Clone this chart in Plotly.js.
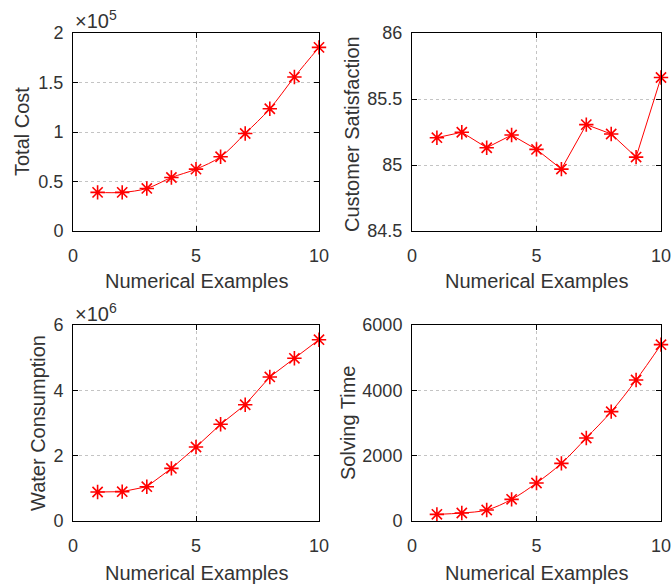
<!DOCTYPE html>
<html>
<head>
<meta charset="utf-8">
<script src="https://cdn.plot.ly/plotly-3.0.1.min.js"></script>
<style>html,body{margin:0;padding:0;background:#fff;}#chart{width:671px;height:586px;}</style>
</head>
<body>
<div id="chart"></div>
<script>
// Data
const examples = [1, 2, 3, 4, 5, 6, 7, 8, 9, 10];
const totalCost = [39000, 39000, 43000, 54000, 62500, 75000, 98500, 123500, 155500, 185500];
const customerSatisfaction = [85.207, 85.248, 85.131, 85.227, 85.118, 84.969, 85.306, 85.235, 85.06, 85.663];
const waterConsumption = [888000, 898000, 1050000, 1610000, 2265000, 2960000, 3560000, 4410000, 4980000, 5550000];
const solvingTime = [204, 245, 337, 663, 1163, 1765, 2541, 3347, 4316, 5398];

const xTicks = [0, 5, 10];
const costTickVals = [0, 50000, 100000, 150000, 200000];
const costTickText = ['0', '0.5', '1', '1.5', '2'];
const satTickVals = [84.5, 85, 85.5, 86];
const satTickText = ['84.5', '85', '85.5', '86'];
const waterTickVals = [0, 2000000, 4000000, 6000000];
const waterTickText = ['0', '2', '4', '6'];
const timeTickVals = [0, 2000, 4000, 6000];
const timeTickText = ['0', '2000', '4000', '6000'];

const W = 671, H = 586;
const px = v => v / W;
const py = v => 1 - v / H;
const textColor = '#333333';
const fontFam = 'Liberation Sans, Arial, sans-serif';

function trace(y, xa, ya, shape) {
  return {
    x: examples, y: y, xaxis: xa, yaxis: ya, type: 'scatter', mode: 'lines+markers',
    line: {color: '#ff0000', width: 1, shape: shape || 'linear'},
    marker: {symbol: 'asterisk-open', size: 12, color: '#ff0000', line: {color: '#ff0000', width: 1.6}},
    hoverinfo: 'skip', showlegend: false, cliponaxis: false
  };
}

function xaxis(domain, anchor) {
  return {
    domain: domain, anchor: anchor, range: [0, 10], tickvals: xTicks, ticktext: xTicks.map(String),
    showline: true, linecolor: '#000', linewidth: 1, mirror: 'ticks',
    ticks: 'inside', ticklen: 5, tickcolor: '#000', ticklabelstandoff: 8,
    ticklabeloverflow: 'allow',
    showgrid: true, gridcolor: '#c4c4c4', griddash: 'dot', gridwidth: 1, zeroline: false,
    tickfont: {family: fontFam, size: 18, color: textColor}, fixedrange: true
  };
}
function yaxis(domain, anchor, range, vals, text) {
  return {
    domain: domain, anchor: anchor, range: range, tickvals: vals, ticktext: text,
    showline: true, linecolor: '#000', linewidth: 1, mirror: 'ticks',
    ticks: 'inside', ticklen: 5, tickcolor: '#000', ticklabelstandoff: 5,
    ticklabeloverflow: 'allow',
    showgrid: true, gridcolor: '#c4c4c4', griddash: 'dot', gridwidth: 1, zeroline: false,
    tickfont: {family: fontFam, size: 18, color: textColor}, fixedrange: true
  };
}

const xL = [px(73), px(319)], xR = [px(412), px(661)];
const yT = [py(231), py(33)], yB = [py(521), py(325)];

const data = [
  trace(totalCost, 'x', 'y', 'spline'),
  trace(customerSatisfaction, 'x2', 'y2'),
  trace(waterConsumption, 'x3', 'y3'),
  trace(solvingTime, 'x4', 'y4', 'spline')
];

function ann(text, x, y, angle, size, xanchor) {
  return {text: text, x: px(x), y: py(y), xref: 'paper', yref: 'paper', showarrow: false,
    textangle: angle || 0, xanchor: xanchor || 'center', yanchor: 'middle',
    font: {family: fontFam, size: size || 20, color: textColor}};
}

const layout = {
  width: W, height: H, margin: {l: 0, r: 0, t: 0, b: 0},
  paper_bgcolor: '#fff', plot_bgcolor: '#fff', showlegend: false,
  xaxis: xaxis(xL, 'y'),
  yaxis: yaxis(yT, 'x', [0, 200000], costTickVals, costTickText),
  xaxis2: xaxis(xR, 'y2'),
  yaxis2: yaxis(yT, 'x2', [84.5, 86], satTickVals, satTickText),
  xaxis3: xaxis(xL, 'y3'),
  yaxis3: yaxis(yB, 'x3', [0, 6000000], waterTickVals, waterTickText),
  xaxis4: xaxis(xR, 'y4'),
  yaxis4: yaxis(yB, 'x4', [0, 6000], timeTickVals, timeTickText),
  annotations: [
    ann('Numerical Examples', 196, 281),
    ann('Numerical Examples', 536, 281),
    ann('Numerical Examples', 196, 573),
    ann('Numerical Examples', 536, 573),
    ann('Total Cost', 22, 132, -90),
    ann('Customer Satisfaction', 352, 134, -90),
    ann('Water Consumption', 38, 423, -90),
    ann('Solving Time', 348, 423, -90),
    ann('\u00d710<sup>5</sup>', 73, 20, 0, 20, 'left'),
    ann('\u00d710<sup>6</sup>', 73, 312, 0, 20, 'left')
  ]
};

Plotly.newPlot('chart', data, layout, {staticPlot: true, displayModeBar: false});
</script>
</body>
</html>
